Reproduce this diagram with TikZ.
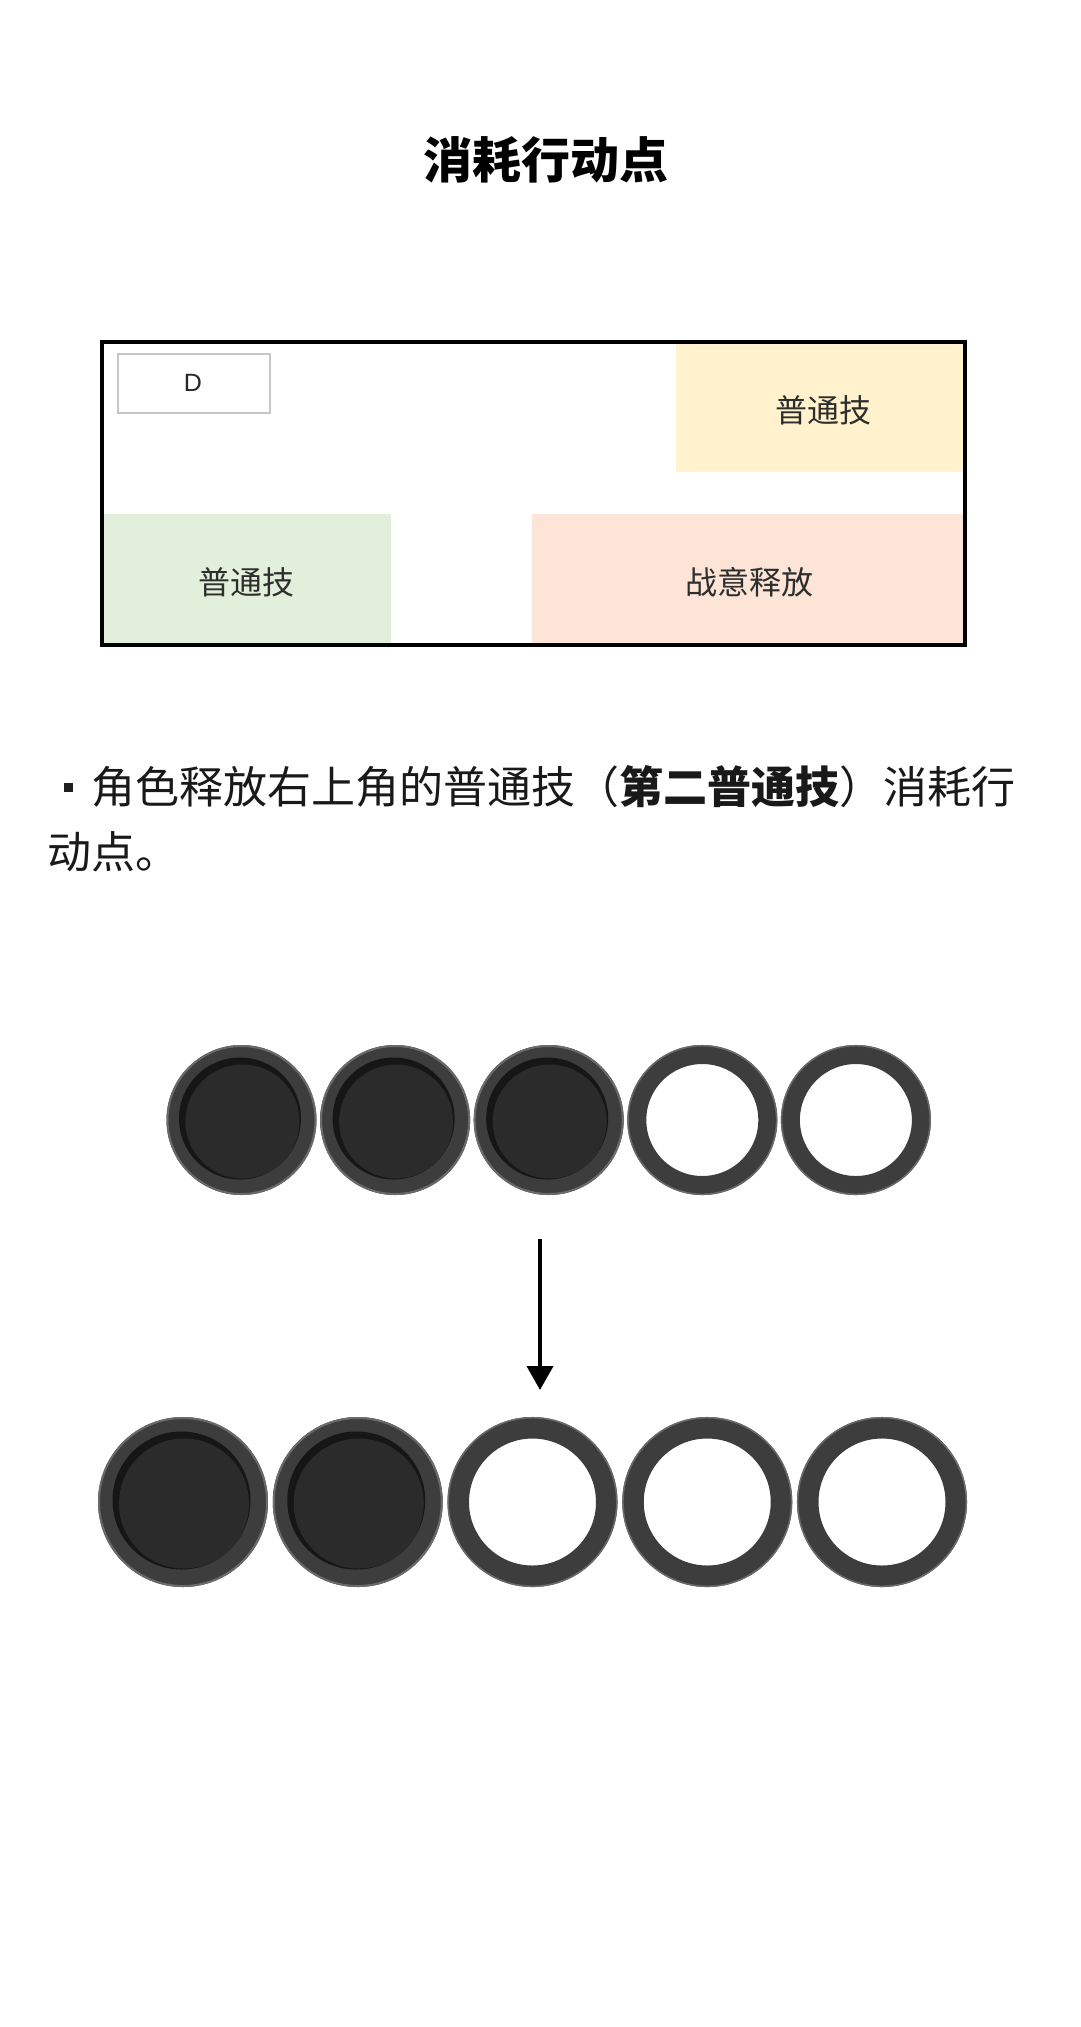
\documentclass[tikz,border=0pt]{standalone}
\usepackage{fontspec}
\usetikzlibrary{arrows.meta,calc}
\newfontfamily\cjk{Noto Sans CJK SC}
\newfontfamily\dfont{Liberation Sans}
\definecolor{ringgray}{HTML}{3D3D3D}
\definecolor{ringsoft}{HTML}{6A6A6A}
\definecolor{innerdark}{HTML}{2B2B2B}
\definecolor{edgedark}{HTML}{161616}
\definecolor{cyellow}{HTML}{FFF2CC}
\definecolor{cgreen}{HTML}{E2EFDA}
\definecolor{cpeach}{HTML}{FCE4D6}
\definecolor{dgray}{HTML}{C6C6C6}
\definecolor{btxt}{HTML}{2E2E2E}
\begin{document}
\begin{tikzpicture}[x=1pt,y=-1pt,
  titletext/.style={font=\cjk\bfseries\fontsize{49}{58}\selectfont, inner sep=0pt, text=black},
  cbox/.style={rectangle, draw=none, inner sep=0pt},
  boxtext/.style={font=\cjk\fontsize{32}{38}\selectfont, inner sep=0pt, text=btxt},
  bodytext/.style={font=\cjk\fontsize{44}{52}\selectfont, inner sep=0pt, text=black!90, anchor=west},
  frame/.style={rectangle, draw=black, line width=4pt, inner sep=0pt, fill=none},
  dbox/.style={rectangle, draw=dgray, line width=1.8pt, inner sep=0pt, fill=white},
  arrowline/.style={line width=4pt, -{Triangle[width=26pt,length=24pt]}}
]
\useasboundingbox (0,0) rectangle (1080,2027);
\fill[white] (0,0) rectangle (1080,2027);

% title
\node[titletext] (title) at (546,160) {消耗行动点};

% skill panel
\node[cbox, fill=cyellow, minimum width=287pt, minimum height=128pt] (ybox) at (819.5,408) {};
\node[cbox, fill=cgreen, minimum width=287pt, minimum height=129pt] (gbox) at (247.5,578.5) {};
\node[cbox, fill=cpeach, minimum width=431pt, minimum height=129pt] (pbox) at (747.5,578.5) {};
\node[boxtext] (ytext) at (823,410) {普通技};
\node[boxtext] (gtext) at (246,582) {普通技};
\node[boxtext] (ptext) at (749,582) {战意释放};
\node[dbox, minimum width=152pt, minimum height=59pt] (dkey) at (194,383.5) {};
\node[font=\dfont\fontsize{25}{30}\selectfont, inner sep=0pt, text=black!85] (dtext) at (193,383) {D};
\node[frame, minimum width=863pt, minimum height=303pt] (panel) at (533.5,493.5) {};

% bullet text
\node[rectangle, fill=black!88, minimum size=9pt, inner sep=0pt] (bullet) at (68.5,787) {};
\node[bodytext] (line1) at (91,787) {角色释放右上角的普通技（{\bfseries 第二普通技}）消耗行};
\node[bodytext] (line2) at (47,852) {动点。};

% row 1 of action points
\foreach \i in {0,1,2,3,4} {
  \coordinate (r1c\i) at ({241.5+153.6*\i},1120);
}
\foreach \i in {0,1,2} {
  \fill[ringgray] (r1c\i) circle (75);
  \draw[ringsoft, line width=2pt] (r1c\i) circle (74);
  \fill[edgedark] ($(r1c\i)+(-1.5,-1.5)$) circle (61);
  \fill[innerdark] ($(r1c\i)+(1,1.5)$) circle (57);
}
\foreach \i in {3,4} {
  \draw[ringgray, line width=19pt] (r1c\i) circle (65.5);
  \draw[ringsoft, line width=1.5pt] (r1c\i) circle (74.3);
}

% arrow
\coordinate (atop) at (540,1239);
\coordinate (abot) at (540,1390);
\draw[arrowline] (atop) -- (abot);

% row 2 of action points
\foreach \i in {0,1,2,3,4} {
  \coordinate (r2c\i) at ({183+174.75*\i},1502);
}
\foreach \i in {0,1} {
  \fill[ringgray] (r2c\i) circle (85);
  \draw[ringsoft, line width=2pt] (r2c\i) circle (84);
  \fill[edgedark] ($(r2c\i)+(-1.5,-1.5)$) circle (69);
  \fill[innerdark] ($(r2c\i)+(1,1.5)$) circle (65);
}
\foreach \i in {2,3,4} {
  \draw[ringgray, line width=21.5pt] (r2c\i) circle (74.25);
  \draw[ringsoft, line width=1.5pt] (r2c\i) circle (84.3);
}
\end{tikzpicture}
\end{document}
